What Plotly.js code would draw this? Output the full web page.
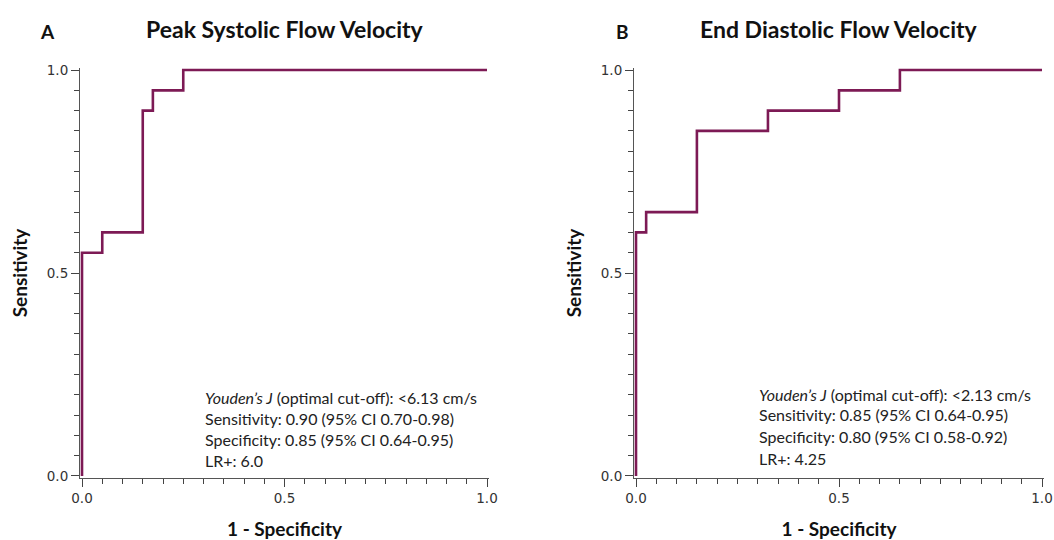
<!DOCTYPE html>
<html>
<head>
<meta charset="utf-8">
<script src="https://cdn.plot.ly/plotly-3.0.1.min.js"></script>
<style>html,body{margin:0;padding:0;background:#fff}#chart{width:1054px;height:540px}</style>
</head>
<body>
<div id="chart"></div>
<script>
// Panel A: Peak Systolic Flow Velocity ROC
var fprA = [0, 0, 0.05, 0.15, 0.175, 0.25, 1];
var tprA = [0, 0.55, 0.6, 0.9, 0.95, 1, 1];
// Panel B: End Diastolic Flow Velocity ROC
var fprB = [0, 0, 0.025, 0.15, 0.325, 0.5, 0.65, 1];
var tprB = [0, 0.6, 0.65, 0.85, 0.9, 0.95, 1, 1];

var panelLabels = ["A", "B"];
var panelTitles = ["Peak Systolic Flow Velocity", "End Diastolic Flow Velocity"];
var statsA = ["<i>Youden’s J</i> (optimal cut-off): <6.13 cm/s",
              "Sensitivity: 0.90 (95% CI 0.70-0.98)",
              "Specificity: 0.85 (95% CI 0.64-0.95)",
              "LR+: 6.0"];
var statsB = ["<i>Youden’s J</i> (optimal cut-off): <2.13 cm/s",
              "Sensitivity: 0.85 (95% CI 0.64-0.95)",
              "Specificity: 0.80 (95% CI 0.58-0.92)",
              "LR+: 4.25"];
var tickVals = [0, 0.5, 1];
var tickText = ["0.0", "0.5", "1.0"];

var lineColor = "#7d1a55";
var W = 1054;

var traces = [
  {x: fprA, y: tprA, type: "scatter", mode: "lines", line: {shape: "hv", color: lineColor, width: 2.6}, xaxis: "x", yaxis: "y", hoverinfo: "skip"},
  {x: fprB, y: tprB, type: "scatter", mode: "lines", line: {shape: "hv", color: lineColor, width: 2.6}, xaxis: "x2", yaxis: "y2", hoverinfo: "skip"}
];

var pad = 0.005;
var tickFont = {family: "DejaVu Sans", size: 13.5, color: "#333"};
var titleFont = {family: "Lato", size: 19, color: "#111", weight: "bold"};
function xax(l, r, anchor) {
  return {
    domain: [l / W, r / W], anchor: anchor,
    range: [-pad, 1 + pad], showline: true, linecolor: "#555", linewidth: 1,
    showgrid: false, zeroline: false,
    ticks: "outside", ticklen: 8, tickcolor: "#444", tickwidth: 1,
    tickvals: tickVals, ticktext: tickText,
    tickfont: tickFont,
    minor: {dtick: 0.05, tick0: 0, ticks: "outside", ticklen: 5, tickcolor: "#444", tickwidth: 1, showgrid: false},
    title: {text: "1 - Specificity", font: titleFont, standoff: 18}
  };
}
function yax(anchor) {
  return {
    domain: [0, 1], anchor: anchor,
    range: [-pad, 1 + pad], showline: true, linecolor: "#555", linewidth: 1,
    showgrid: false, zeroline: false,
    ticks: "outside", ticklen: 8, tickcolor: "#444", tickwidth: 1,
    tickvals: tickVals, ticktext: tickText,
    tickfont: tickFont,
    minor: {dtick: 0.05, tick0: 0, ticks: "outside", ticklen: 5, tickcolor: "#444", tickwidth: 1, showgrid: false},
    title: {text: "Sensitivity", font: titleFont, standoff: 14}
  };
}

// plot area: x data 0..1 -> 82..487 (A), 636..1042 (B); y data 0..1 -> 476..70
var spanA = 405 * (1 + 2 * pad), spanB = 406 * (1 + 2 * pad);
var lA = 82 - 405 * pad, rA = lA + spanA;
var lB = 636 - 406 * pad, rB = lB + spanB;
var plotTop = 70 - 406 * pad, plotBot = 476 + 406 * pad;
var plotH = plotBot - plotTop;

function py(p) { return (plotBot - p) / plotH; }

var annotations = [];
var labelX = [47, 622], titleX = [285, 839];
for (var i = 0; i < 2; i++) {
  annotations.push({xref: "paper", yref: "paper", x: labelX[i] / W, y: py(31), text: "<b>" + panelLabels[i] + "</b>", showarrow: false, xanchor: "center", yanchor: "middle", font: {family: "Lato", size: 19, color: "#111"}});
  annotations.push({xref: "paper", yref: "paper", x: titleX[i] / W, y: py(29), text: "<b>" + panelTitles[i] + "</b>", showarrow: false, xanchor: "center", yanchor: "middle", font: {family: "Lato", size: 23, color: "#111"}});
}
var statY_A = [398, 419, 440, 461];
var statY_B = [395, 415, 437, 459];
for (var j = 0; j < 4; j++) {
  annotations.push({xref: "paper", yref: "paper", x: 203 / W, y: py(statY_A[j]), text: statsA[j], showarrow: false, xanchor: "left", yanchor: "middle", font: {family: "Lato", size: 16, color: "#222"}});
  annotations.push({xref: "paper", yref: "paper", x: 757 / W, y: py(statY_B[j]), text: statsB[j], showarrow: false, xanchor: "left", yanchor: "middle", font: {family: "Lato", size: 16, color: "#222"}});
}

var layout = {
  width: 1054, height: 540,
  margin: {l: 0, r: 0, t: plotTop, b: 540 - plotBot, pad: 0},
  paper_bgcolor: "#fff", plot_bgcolor: "#fff",
  showlegend: false,
  xaxis: xax(lA, rA, "y"),
  yaxis: yax("x"),
  xaxis2: xax(lB, rB, "y2"),
  yaxis2: yax("x2"),
  annotations: annotations
};

Plotly.newPlot("chart", traces, layout, {staticPlot: true, displayModeBar: false});
</script>
</body>
</html>
